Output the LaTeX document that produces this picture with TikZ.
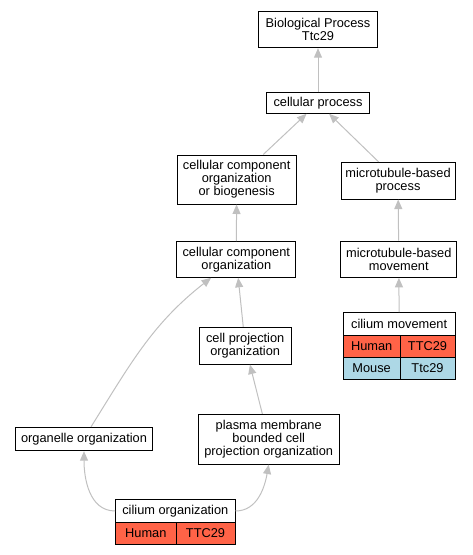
\documentclass[tikz,border=0pt]{standalone}
\usepackage{fontspec}
\setmainfont{Liberation Sans}
\usetikzlibrary{arrows.meta}
\definecolor{myred}{HTML}{FF6347}
\definecolor{myblue}{HTML}{ADD8E6}
\definecolor{mygray}{HTML}{C0C0C0}

\begin{document}
\begin{tikzpicture}[x=1pt,y=1pt,
                    every node/.style={draw,line width=1pt,align=center,inner sep=0pt,
                                       font=\fontsize{12.8}{13}\selectfont},
                    term/.style={fill=white},
                    human/.style={fill=myred},
                    mouse/.style={fill=myblue},
                    isa/.style={draw=mygray,line width=1pt,-{Triangle[length=9.5pt,width=8pt]}}]
\useasboundingbox (0,0) rectangle (472,-555);

% terms
\node[term,minimum width=119pt,minimum height=36pt] (bp) at (318,-29.7) {Biological Process\\Ttc29};
\node[term,minimum width=102.3pt,minimum height=20.6pt] (cp) at (318,-103) {cellular process};
\node[term,minimum width=118.7pt,minimum height=49pt] (ccob) at (236.7,-179.5) {cellular component\\organization\\or biogenesis};
\node[term,minimum width=114pt,minimum height=36.7pt] (mbp) at (398,-180.7) {microtubule-based\\process};
\node[term,minimum width=119.3pt,minimum height=35.6pt] (cco) at (236.3,-259.5) {cellular component\\organization};
\node[term,minimum width=115.7pt,minimum height=36.3pt] (mbm) at (398.8,-259.2) {microtubule-based\\movement};
\node[term,minimum width=91.7pt,minimum height=36.7pt] (cpo) at (245.2,-345.7) {cell projection\\organization};
\node[term,minimum width=136.6pt,minimum height=23.4pt] (oo) at (84,-439) {organelle organization};
\node[term,minimum width=140.7pt,minimum height=49.7pt] (pmb) at (268.7,-439.2) {plasma membrane\\bounded cell\\projection organization};

% annotated terms
\node[term,minimum width=119.3pt,minimum height=23.4pt] (co) at (175.35,-511) {cilium organization};
\node[human,minimum width=60.3pt,minimum height=21.6pt] (coH) at (145.85,-533.5) {Human};
\node[human,minimum width=59pt,minimum height=21.6pt] (coG) at (205.5,-533.5) {TTC29};

\node[term,minimum width=111.7pt,minimum height=22.3pt] (cm) at (399.15,-323.85) {cilium movement};
\node[human,minimum width=56.7pt,minimum height=22.3pt] (cmH) at (371.65,-346.15) {Human};
\node[human,minimum width=55pt,minimum height=22.3pt] (cmG) at (427.5,-346.15) {TTC29};
\node[mouse,minimum width=56.7pt,minimum height=21.7pt] (cmM) at (371.65,-368.15) {Mouse};
\node[mouse,minimum width=55pt,minimum height=21.7pt] (cmT) at (427.5,-368.15) {Ttc29};

% is_a edges
\draw[isa] (cp) -- (bp);
\draw[isa] (ccob) -- (cp);
\draw[isa] (mbp) -- (cp);
\draw[isa] (cco) -- (ccob);
\draw[isa] (mbm) -- (mbp);
\draw[isa] (cm) -- (mbm);
\draw[isa] (cpo) -- (cco);
\draw[isa] (pmb) -- (cpo);
\draw[isa] (oo.60) to[out=58,in=-142] (cco.216);
\draw[isa] (co.west) to[out=180,in=-90] (oo.south);
\draw[isa] (co.east) to[out=0,in=-100] (pmb.south);
\end{tikzpicture}
\end{document}
